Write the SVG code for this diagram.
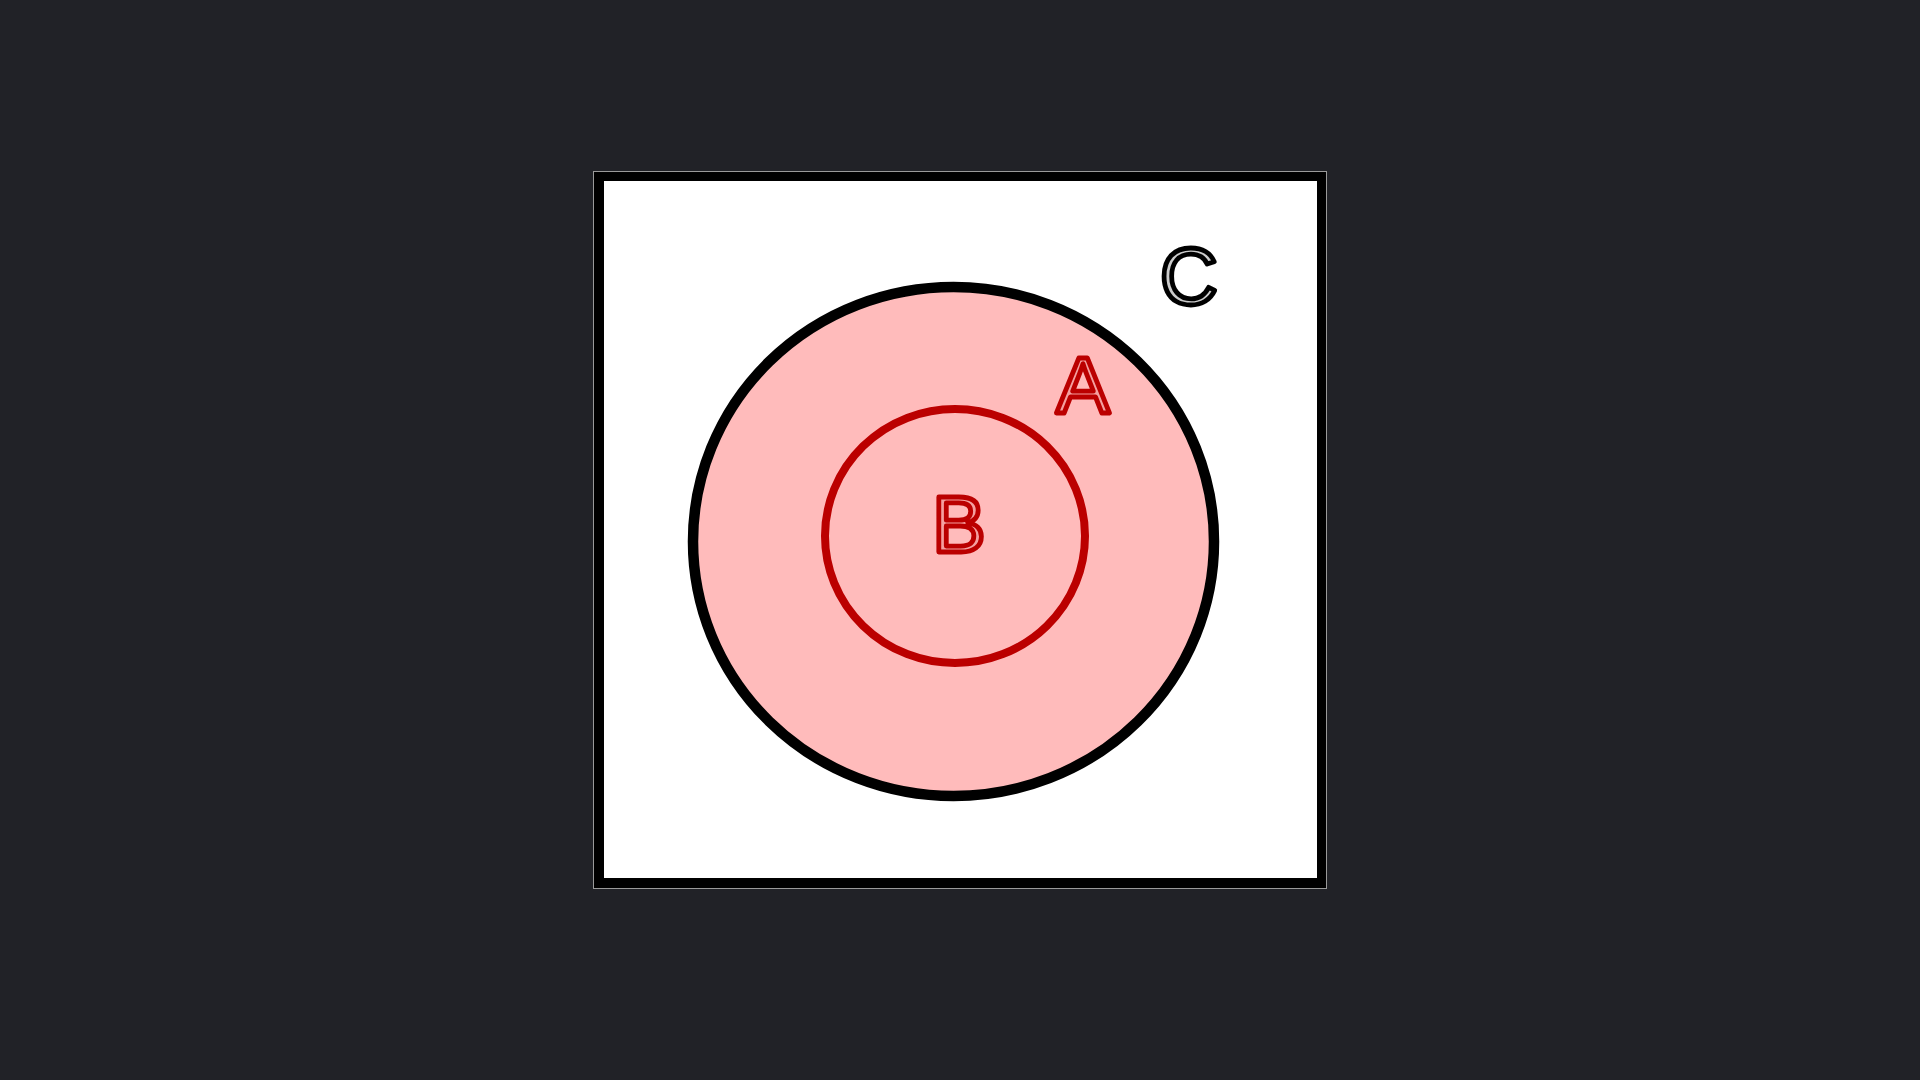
<svg xmlns="http://www.w3.org/2000/svg" width="1920" height="1080" viewBox="0 0 1920 1080">
  <style>
    .lbl { font-family: "Liberation Sans", Arial, sans-serif; font-size: 80px; text-anchor: middle; stroke-width: 4.8; stroke-linejoin: round; }
    .red { fill: #f4a0a0; stroke: #bb0000; }
    .blk { fill: #cccccc; stroke: #000000; }
  </style>
  <rect x="0" y="0" width="1920" height="1080" fill="#212227"/>
  <g id="C">
    <rect x="593.5" y="171.5" width="733" height="717" fill="#000000" stroke="#9a9a9a" stroke-width="1"/>
    <rect x="604" y="181" width="713" height="697" fill="#ffffff"/>
    <text class="lbl blk" x="1189" y="304">C</text>
  </g>
  <g id="A">
    <ellipse cx="953.5" cy="541.5" rx="260.5" ry="254.5" fill="#ffbbbb" stroke="#000000" stroke-width="10.5"/>
    <text class="lbl red" x="1083" y="413">A</text>
  </g>
  <g id="B">
    <ellipse cx="955" cy="536" rx="130" ry="127" fill="none" stroke="#bb0000" stroke-width="8"/>
    <text class="lbl red" x="959" y="552">B</text>
  </g>
  <g id="connectors"/>
</svg>
